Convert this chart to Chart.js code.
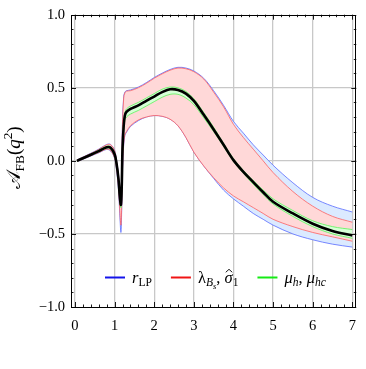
<!DOCTYPE html>
<html>
<head>
<meta charset="utf-8">
<script src="https://cdn.jsdelivr.net/npm/chart.js@4.4.1/dist/chart.umd.min.js"></script>
<style>
  html, body { margin: 0; padding: 0; background: #fff; }
</style>
</head>
<body>
<canvas id="afbChart" width="366" height="369"></canvas>
<script>
// q^2 grid shared by all curves
const qValues = [0.05, 0.2, 0.4, 0.6, 0.8, 0.9, 1.0, 1.05, 1.1, 1.13, 1.16, 1.18, 1.2, 1.23, 1.26, 1.3, 1.4, 1.6, 1.8, 2.0, 2.2, 2.4, 2.6, 2.8, 3.0, 3.25, 3.5, 3.75, 4.0, 4.25, 4.5, 4.75, 5.0, 5.5, 6.0, 6.5, 7.0];

// central value
const central = [0.0, 0.018, 0.042, 0.067, 0.093, 0.09, 0.045, -0.02, -0.13, -0.24, -0.30, -0.18, 0.08, 0.24, 0.31, 0.335, 0.355, 0.38, 0.41, 0.44, 0.47, 0.49, 0.485, 0.46, 0.41, 0.315, 0.215, 0.11, 0.005, -0.075, -0.145, -0.215, -0.28, -0.36, -0.43, -0.48, -0.51];

// r_LP band
const lpUpper = [0.006, 0.026, 0.052, 0.08, 0.112, 0.112, 0.072, 0.002, -0.1, -0.2, -0.26, -0.04, 0.27, 0.44, 0.47, 0.48, 0.485, 0.505, 0.535, 0.57, 0.6, 0.625, 0.64, 0.635, 0.615, 0.565, 0.48, 0.38, 0.27, 0.19, 0.11, 0.04, -0.03, -0.15, -0.25, -0.31, -0.35];
const lpLower = [-0.006, 0.011, 0.033, 0.055, 0.078, 0.068, 0.018, -0.06, -0.2, -0.36, -0.49, -0.33, -0.06, 0.11, 0.175, 0.195, 0.235, 0.275, 0.3, 0.31, 0.305, 0.285, 0.24, 0.16, 0.06, -0.035, -0.12, -0.2, -0.26, -0.31, -0.36, -0.4, -0.44, -0.5, -0.54, -0.57, -0.59];

// lambda_Bs, sigma_1 band
const lamUpper = [0.005, 0.025, 0.05, 0.078, 0.11, 0.11, 0.07, 0.0, -0.1, -0.2, -0.26, -0.05, 0.25, 0.43, 0.465, 0.477, 0.48, 0.5, 0.53, 0.565, 0.595, 0.62, 0.635, 0.63, 0.61, 0.56, 0.47, 0.37, 0.25, 0.16, 0.08, 0.0, -0.08, -0.21, -0.31, -0.38, -0.42];
const lamLower = [-0.005, 0.012, 0.035, 0.057, 0.08, 0.07, 0.02, -0.05, -0.18, -0.33, -0.44, -0.3, -0.05, 0.12, 0.18, 0.2, 0.24, 0.28, 0.3, 0.31, 0.305, 0.285, 0.24, 0.16, 0.06, -0.035, -0.115, -0.185, -0.24, -0.28, -0.32, -0.36, -0.4, -0.45, -0.49, -0.52, -0.55];

// mu_h, mu_hc band
const muUpper = [0.003, 0.022, 0.046, 0.072, 0.1, 0.097, 0.055, -0.01, -0.12, -0.23, -0.28, -0.15, 0.12, 0.27, 0.33, 0.355, 0.375, 0.4, 0.43, 0.46, 0.49, 0.505, 0.5, 0.475, 0.425, 0.33, 0.23, 0.12, 0.015, -0.065, -0.135, -0.2, -0.26, -0.34, -0.41, -0.45, -0.47];
const muLower = [-0.003, 0.014, 0.038, 0.062, 0.087, 0.083, 0.035, -0.03, -0.14, -0.26, -0.32, -0.21, 0.04, 0.21, 0.28, 0.3, 0.32, 0.345, 0.375, 0.405, 0.435, 0.455, 0.455, 0.43, 0.385, 0.295, 0.2, 0.1, -0.005, -0.085, -0.16, -0.23, -0.295, -0.38, -0.45, -0.5, -0.53];

const xMajorTicks = [0, 1, 2, 3, 4, 5, 6, 7];
const yMajorTicks = [-1, -0.5, 0, 0.5, 1];

// legend entries: pieces of text (s = sub / subsub, i = italic)
const legendItems = [
  { color: 'rgb(20,20,235)', parts: [{ t: 'r', i: 1 }, { t: 'LP', s: 'sub' }] },
  { color: 'rgb(240,20,20)', parts: [{ t: 'λ' }, { t: 'B', i: 1, s: 'sub' }, { t: 's', i: 1, s: 'subsub' }, { t: ', ' }, { t: 'σ', i: 1, hat: 1 }, { t: '1', s: 'sub' }] },
  { color: 'rgb(20,235,20)', parts: [{ t: 'μ', i: 1 }, { t: 'h', i: 1, s: 'sub' }, { t: ', ' }, { t: 'μ', i: 1 }, { t: 'hc', i: 1, s: 'sub' }] }
];
const yTitle = [{ t: '𝒜' }, { t: 'FB', s: 'sub' }, { t: '(' }, { t: 'q', i: 1 }, { t: '2', s: 'sup' }, { t: ')' }];

const SERIF = '"Liberation Serif", "DejaVu Serif", serif';

function toPoints(ys) {
  return qValues.map((q, i) => ({ x: q, y: ys[i] }));
}

function drawPieces(ctx, x, y, parts, base) {
  const sizes = { sub: base * 0.7, subsub: base * 0.52, sup: base * 0.7 };
  const shifts = { sub: base * 0.22, subsub: base * 0.38, sup: -base * 0.4 };
  let cx = x;
  parts.forEach(p => {
    const size = p.s ? sizes[p.s] : base;
    const dy = p.s ? shifts[p.s] : 0;
    ctx.font = (p.i ? 'italic ' : '') + size + 'px ' + SERIF;
    ctx.fillText(p.t, cx, y + dy);
    const w = ctx.measureText(p.t).width;
    if (p.hat) {
      ctx.save();
      ctx.lineWidth = 0.9;
      ctx.beginPath();
      ctx.moveTo(cx + w * 0.15, y - size * 0.62);
      ctx.lineTo(cx + w * 0.55, y - size * 0.8);
      ctx.lineTo(cx + w * 0.95, y - size * 0.62);
      ctx.stroke();
      ctx.restore();
    }
    cx += w;
  });
  return cx - x;
}

const frameAndExtras = {
  id: 'frameAndExtras',
  afterDraw(chart) {
    const { ctx, chartArea: a, scales } = chart;
    const xs = scales.x, ys = scales.y;
    ctx.save();
    ctx.strokeStyle = '#000';
    ctx.fillStyle = '#000';

    // inward ticks on all four sides
    ctx.lineWidth = 0.9;
    ctx.beginPath();
    for (let k = 0; k <= 35; k++) {
      const px = Math.round(xs.getPixelForValue(k / 5)) + 0.5;
      const len = k % 5 === 0 ? 5 : 2.5;
      ctx.moveTo(px, a.bottom); ctx.lineTo(px, a.bottom - len);
      ctx.moveTo(px, a.top); ctx.lineTo(px, a.top + len);
    }
    for (let k = -10; k <= 10; k++) {
      const py = Math.round(ys.getPixelForValue(k / 10)) + 0.5;
      const len = k % 5 === 0 ? 5 : 2.5;
      ctx.moveTo(a.left, py); ctx.lineTo(a.left + len, py);
      ctx.moveTo(a.right, py); ctx.lineTo(a.right - len, py);
    }
    ctx.stroke();

    // frame
    ctx.lineWidth = 1;
    ctx.strokeRect(Math.round(a.left) + 0.5, Math.round(a.top) + 0.5,
      Math.round(a.right - a.left) - 1, Math.round(a.bottom - a.top));

    // legend
    ctx.textBaseline = 'alphabetic';
    const legendY = a.bottom - 29.5;
    let lx = a.left + 34;
    legendItems.forEach(item => {
      ctx.strokeStyle = item.color;
      ctx.lineWidth = 2;
      ctx.beginPath();
      ctx.moveTo(lx, legendY); ctx.lineTo(lx + 20, legendY);
      ctx.stroke();
      ctx.strokeStyle = '#000';
      const w = drawPieces(ctx, lx + 27, legendY + 5, item.parts, 16.5);
      lx += 27 + w + 19;
    });

    // y axis title, rotated
    ctx.save();
    ctx.translate(20, (a.top + a.bottom) / 2 - 3);
    ctx.rotate(-Math.PI / 2);
    const probe = document.createElement('canvas').getContext('2d');
    let total = 0;
    yTitle.forEach(p => {
      const size = p.s ? 19 * 0.7 : 19;
      probe.font = (p.i ? 'italic ' : '') + size + 'px ' + SERIF;
      total += probe.measureText(p.t).width;
    });
    drawPieces(ctx, -total / 2, 0, yTitle, 19);
    ctx.restore();

    ctx.restore();
  }
};

const bandFills = {
  lp: 'rgb(219,234,255)',
  lam: 'rgb(255,216,216)',
  mu: 'rgb(214,255,214)'
};
const bandEdges = {
  lp: 'rgba(80,100,255,0.85)',
  lam: 'rgba(255,90,90,0.85)',
  mu: 'rgba(90,245,90,0.9)'
};

function band(values, key, order, fillPrev) {
  return {
    data: toPoints(values),
    borderColor: bandEdges[key],
    borderWidth: 0.9,
    backgroundColor: bandFills[key],
    fill: fillPrev ? '-1' : false,
    pointRadius: 0,
    tension: 0.35,
    order: order
  };
}

new Chart(document.getElementById('afbChart'), {
  type: 'line',
  data: {
    datasets: [
      band(lpUpper, 'lp', 3, false),
      band(lpLower, 'lp', 3, true),
      band(lamUpper, 'lam', 2, false),
      band(lamLower, 'lam', 2, true),
      band(muUpper, 'mu', 1, false),
      band(muLower, 'mu', 1, true),
      {
        data: toPoints(central),
        borderColor: '#000',
        borderWidth: 2.6,
        fill: false,
        pointRadius: 0,
        tension: 0.35,
        order: 0
      }
    ]
  },
  options: {
    responsive: false,
    animation: false,
    devicePixelRatio: 1,
    layout: { padding: { top: 13, right: 4, left: 0, bottom: 0 } },
    plugins: { legend: { display: false }, tooltip: { enabled: false } },
    scales: {
      x: {
        type: 'linear',
        min: -0.1,
        max: 7.1,
        afterBuildTicks: s => { s.ticks = xMajorTicks.map(v => ({ value: v })); },
        afterFit: s => { s.height = 62; },
        grid: { color: '#c8c8c8', lineWidth: 1.3, drawTicks: false },
        border: { display: false },
        ticks: {
          padding: 10,
          color: '#000',
          font: { family: SERIF, size: 14.5 },
          maxRotation: 0,
          callback: v => String(v)
        }
      },
      y: {
        type: 'linear',
        min: -1,
        max: 1,
        afterBuildTicks: s => { s.ticks = yMajorTicks.map(v => ({ value: v })); },
        afterFit: s => { s.width = 71; },
        grid: { color: c => (Math.abs(c.tick.value) === 1 ? 'rgba(0,0,0,0)' : '#c8c8c8'), lineWidth: 1.3, drawTicks: false },
        border: { display: false },
        ticks: {
          padding: 6,
          color: '#000',
          font: { family: SERIF, size: 14.5 },
          callback: v => (v < 0 ? '\u2212' : '') + Math.abs(v).toFixed(1)
        }
      }
    }
  },
  plugins: [frameAndExtras]
});
</script>
</body>
</html>
